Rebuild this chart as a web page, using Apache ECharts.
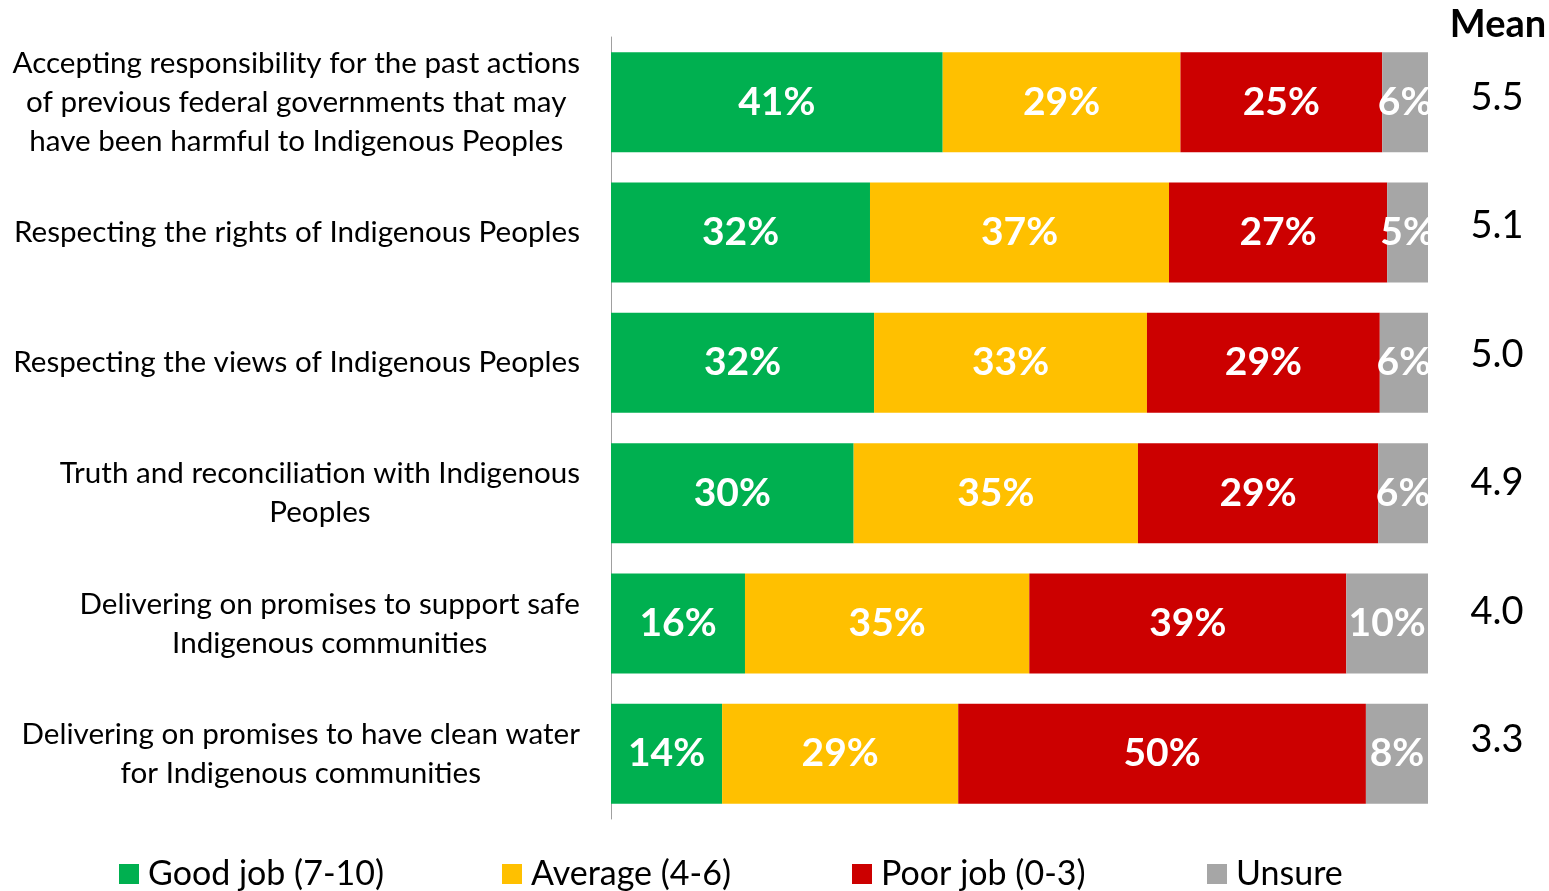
<!DOCTYPE html>
<html>
<head>
<meta charset="utf-8">
<script src="https://cdn.jsdelivr.net/npm/echarts@6/dist/echarts.min.js"></script>
<style>html,body{margin:0;padding:0;background:#fff}#c{width:1549px;height:891px}</style>
</head>
<body>
<div id="c"></div>
<script>
const categories = [
  'Accepting responsibility for the past actions\nof previous federal governments that may\nhave been harmful to Indigenous Peoples',
  'Respecting the rights of Indigenous Peoples',
  'Respecting the views of Indigenous Peoples',
  'Truth and reconciliation with Indigenous\nPeoples',
  'Delivering on promises to support safe\nIndigenous communities',
  'Delivering on promises to have clean water\nfor Indigenous communities'
];
const seriesNames = ['Good job (7-10)', 'Average (4-6)', 'Poor job (0-3)', 'Unsure'];
const goodJob = [40.6, 31.7, 32.2, 29.7, 16.4, 13.6];
const average = [29.1, 36.6, 33.4, 34.8, 34.8, 28.9];
const poorJob = [24.7, 26.7, 28.5, 29.4, 38.8, 49.9];
const unsure = [5.6, 5.0, 5.9, 6.1, 10.0, 7.6];
const means = ['5.5', '5.1', '5.0', '4.9', '4.0', '3.3'];
const colors = ['#00B050', '#FFC000', '#CC0000', '#A6A6A6'];

const FONT = 'Lato';
const chart = echarts.init(document.getElementById('c'));
const values = [goodJob, average, poorJob, unsure];
const legendLefts = [119, 502, 852, 1207];

const option = {
  animation: false,
  textStyle: { fontFamily: FONT },
  grid: [
    { left: 611, right: 121, top: 37, bottom: 72 },
    { left: 1497, width: 10, top: 33, bottom: 87 }
  ],
  xAxis: [
    { type: 'value', min: 0, max: 100, show: false, gridIndex: 0 },
    { type: 'value', show: false, gridIndex: 1 }
  ],
  yAxis: [
    {
      type: 'category', data: categories, inverse: true, gridIndex: 0,
      axisLine: { show: true, lineStyle: { color: '#A0A0A0', width: 1 } },
      axisTick: { show: false },
      axisLabel: {
        margin: 31, align: 'right', color: '#000',
        formatter: v => v.split('\n').map(s => '{c|' + s + '}').join('\n'),
        rich: { c: { align: 'center', fontSize: 29.6, lineHeight: 39, fontFamily: FONT, color: '#000' } }
      }
    },
    {
      type: 'category', data: means, inverse: true, gridIndex: 1,
      axisLine: { show: false }, axisTick: { show: false },
      axisLabel: { margin: 0, align: 'center', fontSize: 38, color: '#000', fontFamily: FONT }
    }
  ],
  legend: seriesNames.map((n, i) => ({
    data: [n], left: legendLefts[i], top: 857, icon: 'rect', padding: 0,
    itemWidth: 20, itemHeight: 20, itemGap: 0,
    textStyle: { fontSize: 34, color: '#000', fontFamily: FONT, padding: [0, 0, 0, 4] },
    selectedMode: false
  })),
  graphic: [{
    type: 'text', x: 1498, y: 25,
    style: { text: 'Mean', textAlign: 'center', textVerticalAlign: 'middle', fontSize: 38, fontWeight: 'bold', fontFamily: FONT, fill: '#000' }
  }],
  series: seriesNames.map((n, i) => ({
    name: n, type: 'bar', stack: 'total', data: values[i], barWidth: 100,
    itemStyle: { color: colors[i] },
    label: {
      show: true, position: 'inside', color: '#fff', fontWeight: 'bold', fontSize: 39, fontFamily: FONT,
      formatter: p => Math.round(p.value) + '%'
    }
  }))
};
chart.setOption(option);
</script>
</body>
</html>
